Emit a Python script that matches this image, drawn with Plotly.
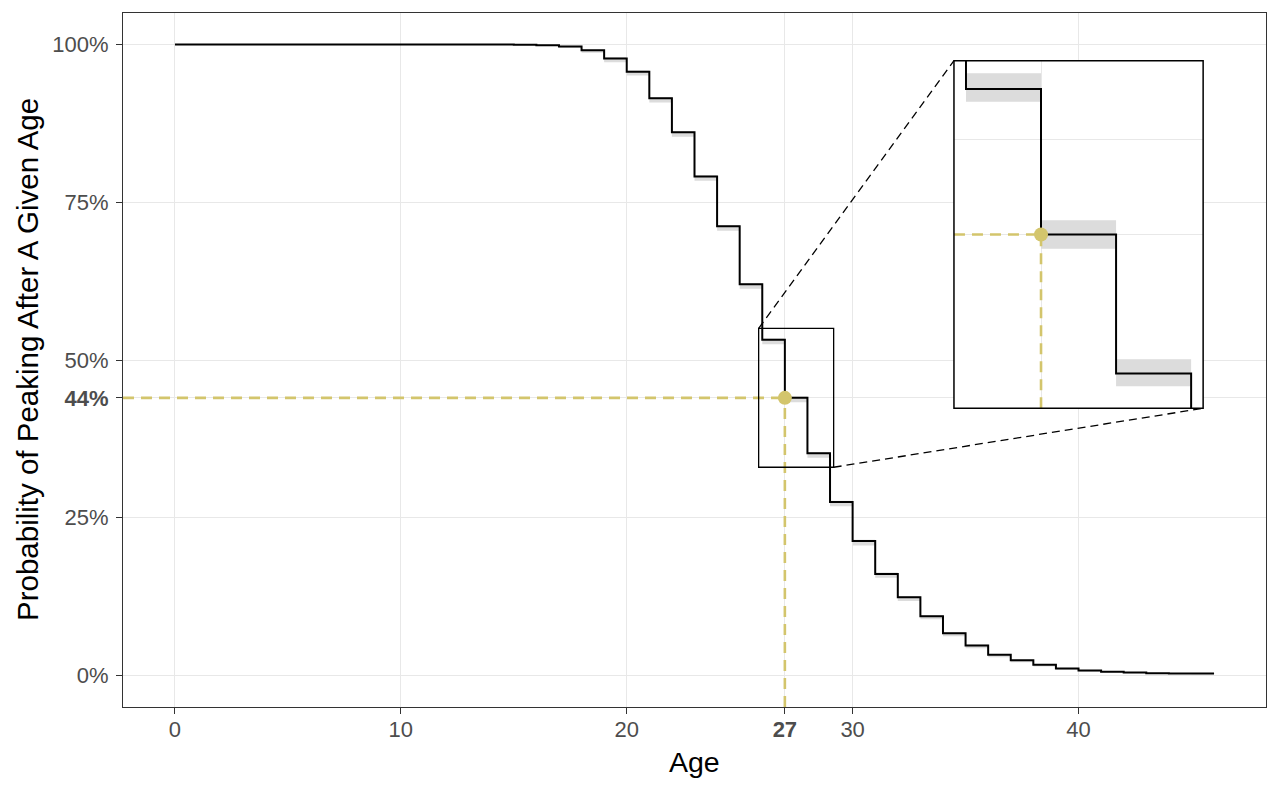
import plotly.graph_objects as go

# ---------------- data ----------------
ages = list(range(0, 47))
prob = [1.0, 1.0, 1.0, 1.0, 1.0, 1.0, 1.0, 1.0, 1.0, 1.0,
        1.0, 1.0, 1.0, 1.0, 1.0, 0.9995, 0.999, 0.997, 0.991, 0.978,
        0.957, 0.915, 0.861, 0.791, 0.712, 0.620, 0.532, 0.440, 0.352, 0.275,
        0.213, 0.161, 0.124, 0.094, 0.067, 0.0475, 0.033, 0.024, 0.017, 0.011,
        0.008, 0.006, 0.0045, 0.0035, 0.0032, 0.003, 0.003]

# confidence band per one-year step (ages 0..45)
ci_lower = [1.0, 1.0, 1.0, 1.0, 1.0, 1.0, 1.0, 1.0, 1.0, 1.0,
            1.0, 1.0, 1.0, 1.0, 1.0, 0.9995, 0.998, 0.995, 0.987, 0.972,
            0.951, 0.908, 0.854, 0.784, 0.705, 0.613, 0.525, 0.433, 0.345, 0.268,
            0.206, 0.155, 0.118, 0.089, 0.062, 0.043, 0.029, 0.021, 0.014, 0.009,
            0.006, 0.0045, 0.0033, 0.0025, 0.0022, 0.002]
ci_upper = [1.0, 1.0, 1.0, 1.0, 1.0, 1.0, 1.0, 1.0, 1.0, 1.0,
            1.0, 1.0, 1.0, 1.0, 1.0, 0.9998, 0.9995, 0.998, 0.992, 0.980,
            0.959, 0.917, 0.863, 0.793, 0.714, 0.622, 0.534, 0.442, 0.354, 0.277,
            0.215, 0.163, 0.126, 0.096, 0.069, 0.049, 0.034, 0.025, 0.018, 0.012,
            0.0085, 0.0065, 0.005, 0.004, 0.0036, 0.0034]

# band as shown in the magnified inset
inset_ci_ages = [26, 27, 28]
inset_ci_lower = [0.524, 0.431, 0.344]
inset_ci_upper = [0.542, 0.449, 0.361]

highlight_age = 27
highlight_prob = 0.44

x_tick_vals = [0, 10, 20, 27, 30, 40]
x_tick_text = ["0", "10", "20", "<b>27</b>", "30", "40"]
y_tick_vals = [0, 0.25, 0.44, 0.5, 0.75, 1.0]
y_tick_text = ["0%", "25%", "<b>44%</b>", "50%", "75%", "100%"]

x_title = "Age"
y_title = "Probability of Peaking After A Given Age"

zoom_x = [25.84, 29.16]
zoom_y = [0.33, 0.55]

# ---------------- style ----------------
X_RANGE = [-2.3, 48.3]
Y_RANGE = [-0.05, 1.05]
INSET_DOM_X = [0.727, 0.945]
INSET_DOM_Y = [0.4304, 0.9313]
GOLD = "#d3c56c"
BAND = "#dcdcdc"
GRID = "#e8e8e8"
FONT = "Liberation Sans, Arial, Helvetica, sans-serif"


def band_xy(x_left, lo, hi):
    xs, ys = [], []
    for a, l, h in zip(x_left, lo, hi):
        xs += [a, a + 1, a + 1, a, a, None]
        ys += [l, l, h, h, l, None]
    return xs, ys


fig = go.Figure()

# main panel
bx, by = band_xy(ages[:-1], ci_lower, ci_upper)
fig.add_trace(go.Scatter(x=bx, y=by, fill="toself", fillcolor=BAND, mode="lines",
                         line=dict(width=0, color=BAND), hoverinfo="skip", showlegend=False))
fig.add_trace(go.Scatter(x=[X_RANGE[0], highlight_age], y=[highlight_prob, highlight_prob],
                         mode="lines", line=dict(color=GOLD, width=2.6, dash="11px,7px"),
                         showlegend=False, cliponaxis=False))
fig.add_trace(go.Scatter(x=[highlight_age, highlight_age], y=[Y_RANGE[0], highlight_prob],
                         mode="lines", line=dict(color=GOLD, width=2.6, dash="11px,7px"),
                         showlegend=False))
fig.add_trace(go.Scatter(x=ages, y=prob, mode="lines", line=dict(color="black", width=2, shape="hv"),
                         showlegend=False))
fig.add_trace(go.Scatter(x=[highlight_age], y=[highlight_prob], mode="markers",
                         marker=dict(color=GOLD, size=14), showlegend=False))

# inset panel
ibx, iby = band_xy(inset_ci_ages, inset_ci_lower, inset_ci_upper)
fig.add_trace(go.Scatter(x=ibx, y=iby, fill="toself", fillcolor=BAND, mode="lines",
                         line=dict(width=0, color=BAND), hoverinfo="skip", showlegend=False,
                         xaxis="x2", yaxis="y2"))
fig.add_trace(go.Scatter(x=[zoom_x[0], highlight_age], y=[highlight_prob, highlight_prob],
                         mode="lines", line=dict(color=GOLD, width=2.6, dash="11px,7px"),
                         showlegend=False, xaxis="x2", yaxis="y2"))
fig.add_trace(go.Scatter(x=[highlight_age, highlight_age], y=[zoom_y[0], highlight_prob],
                         mode="lines", line=dict(color=GOLD, width=2.6, dash="11px,7px"),
                         showlegend=False, xaxis="x2", yaxis="y2"))
fig.add_trace(go.Scatter(x=ages, y=prob, mode="lines", line=dict(color="black", width=2, shape="hv"),
                         showlegend=False, xaxis="x2", yaxis="y2"))
fig.add_trace(go.Scatter(x=[highlight_age], y=[highlight_prob], mode="markers",
                         marker=dict(color=GOLD, size=14), showlegend=False,
                         xaxis="x2", yaxis="y2"))


def to_paper_x(v):
    return (v - X_RANGE[0]) / (X_RANGE[1] - X_RANGE[0])


def to_paper_y(v):
    return (v - Y_RANGE[0]) / (Y_RANGE[1] - Y_RANGE[0])


shapes = [
    # white background of inset (covers main panel grid)
    dict(type="rect", xref="x2 domain", yref="y2 domain", x0=0, x1=1, y0=0, y1=1,
         fillcolor="white", line=dict(width=0), layer="below"),
    # inset border
    dict(type="rect", xref="x2 domain", yref="y2 domain", x0=0, x1=1, y0=0, y1=1,
         line=dict(color="black", width=1.5), layer="above"),
    # zoom box in main
    dict(type="rect", xref="x", yref="y", x0=zoom_x[0], x1=zoom_x[1], y0=zoom_y[0], y1=zoom_y[1],
         line=dict(color="black", width=1.3), layer="above"),
    # connectors
    dict(type="line", xref="paper", yref="paper",
         x0=to_paper_x(zoom_x[0]), y0=to_paper_y(zoom_y[1]), x1=INSET_DOM_X[0], y1=INSET_DOM_Y[1],
         line=dict(color="black", width=1.3, dash="8px,5px")),
    dict(type="line", xref="paper", yref="paper",
         x0=to_paper_x(zoom_x[1]), y0=to_paper_y(zoom_y[0]), x1=INSET_DOM_X[1], y1=INSET_DOM_Y[0],
         line=dict(color="black", width=1.3, dash="8px,5px")),
]

annotations = [
    dict(text=x_title, xref="paper", yref="paper", x=0.5, y=0, yshift=-55,
         xanchor="center", yanchor="middle", showarrow=False,
         font=dict(size=28.5, color="black", family=FONT)),
    dict(text=y_title, xref="paper", yref="paper", x=0, y=0.5, xshift=-96,
         xanchor="center", yanchor="middle", textangle=-90, showarrow=False,
         font=dict(size=29.5, color="black", family=FONT)),
]

fig.update_layout(
    width=1280, height=790,
    margin=dict(l=115, r=22, t=5, b=91),
    paper_bgcolor="white", plot_bgcolor="white",
    font=dict(family=FONT),
    shapes=shapes, annotations=annotations,
    xaxis=dict(range=X_RANGE, tickvals=x_tick_vals, ticktext=x_tick_text,
               ticks="outside", ticklen=6, tickwidth=1, tickcolor="#333333",
               tickfont=dict(size=22, color="#4d4d4d"), ticklabelstandoff=-3,
               showgrid=True, gridcolor=GRID, gridwidth=1.2, zeroline=False,
               showline=True, mirror=True, linecolor="#333333", linewidth=1),
    yaxis=dict(range=Y_RANGE, tickvals=y_tick_vals, ticktext=y_tick_text,
               ticks="outside", ticklen=6, tickwidth=1, tickcolor="#333333",
               tickfont=dict(size=22, color="#4d4d4d"), ticklabelstandoff=3,
               showgrid=True, gridcolor=GRID, gridwidth=1.2, zeroline=False,
               showline=True, mirror=True, linecolor="#333333", linewidth=1),
    xaxis2=dict(domain=INSET_DOM_X, anchor="y2", range=zoom_x, tickvals=[highlight_age],
                showticklabels=False, ticks="", showgrid=True, gridcolor=GRID, gridwidth=1.2,
                zeroline=False, showline=False),
    yaxis2=dict(domain=INSET_DOM_Y, anchor="x2", range=zoom_y, tickvals=[highlight_prob, 0.5],
                showticklabels=False, ticks="", showgrid=True, gridcolor=GRID, gridwidth=1.2,
                zeroline=False, showline=False),
)

fig.write_html("out.html")
